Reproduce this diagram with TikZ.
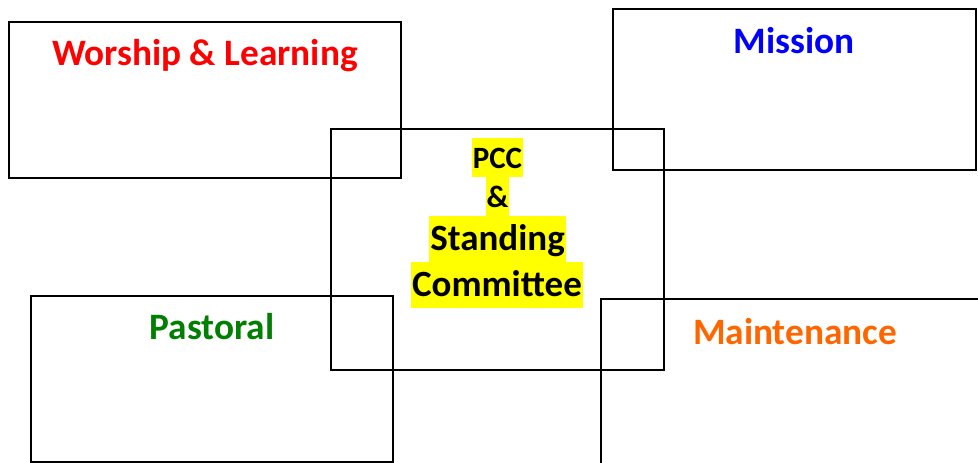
\documentclass[tikz,border=0pt]{standalone}
\usepackage{fontspec}
\setmainfont{Carlito}
\definecolor{wlred}{RGB}{255,0,0}
\definecolor{misblue}{RGB}{0,0,255}
\definecolor{pasgreen}{RGB}{0,128,0}
\definecolor{maiorange}{RGB}{255,102,0}
\definecolor{hlyellow}{RGB}{255,255,0}
\tikzset{
  frame/.style={draw=black, line width=2.2pt},
  lbl/.style={font=\fontsize{37.3}{44}\selectfont\bfseries, anchor=base, inner sep=0pt},
  hlsmall/.style={fill=hlyellow, text=black, anchor=base, inner xsep=1pt, inner ysep=0pt,
    font=\fontsize{31}{37}\selectfont\bfseries, text height=30pt, text depth=9pt},
  hlbig/.style={fill=hlyellow, text=black, anchor=base, inner xsep=1pt, inner ysep=0pt,
    font=\fontsize{37}{44}\selectfont\bfseries, text height=34pt, text depth=12pt}
}
\begin{document}
\begin{tikzpicture}[x=1pt, y=-1pt]
\useasboundingbox (0,0) rectangle (978,463);
% frames
\draw[frame] (9,22) rectangle (401,178);
\draw[frame] (613,9) rectangle (976,170);
\draw[frame] (331,129) rectangle (664,370);
\draw[frame] (31,296) rectangle (393,462);
\draw[frame] (601,299) rectangle (990,480);
% labels
\node[lbl, text=wlred] (wl) at (205,65) {Worship \& Learning};
\node[lbl, text=misblue] (mis) at (794,53) {Mission};
\node[lbl, text=pasgreen] (pas) at (212,339) {Pastoral};
\node[lbl, text=maiorange] (mai) at (795,344) {Maintenance};
% centre
\node[hlsmall] (pcc) at (497.5,168) {PCC};
\node[hlsmall] (amp) at (497.5,207) {\&};
\node[hlbig] (std) at (497.5,250) {Standing};
\node[hlbig] (com) at (497,296) {Committee};
\end{tikzpicture}
\end{document}
